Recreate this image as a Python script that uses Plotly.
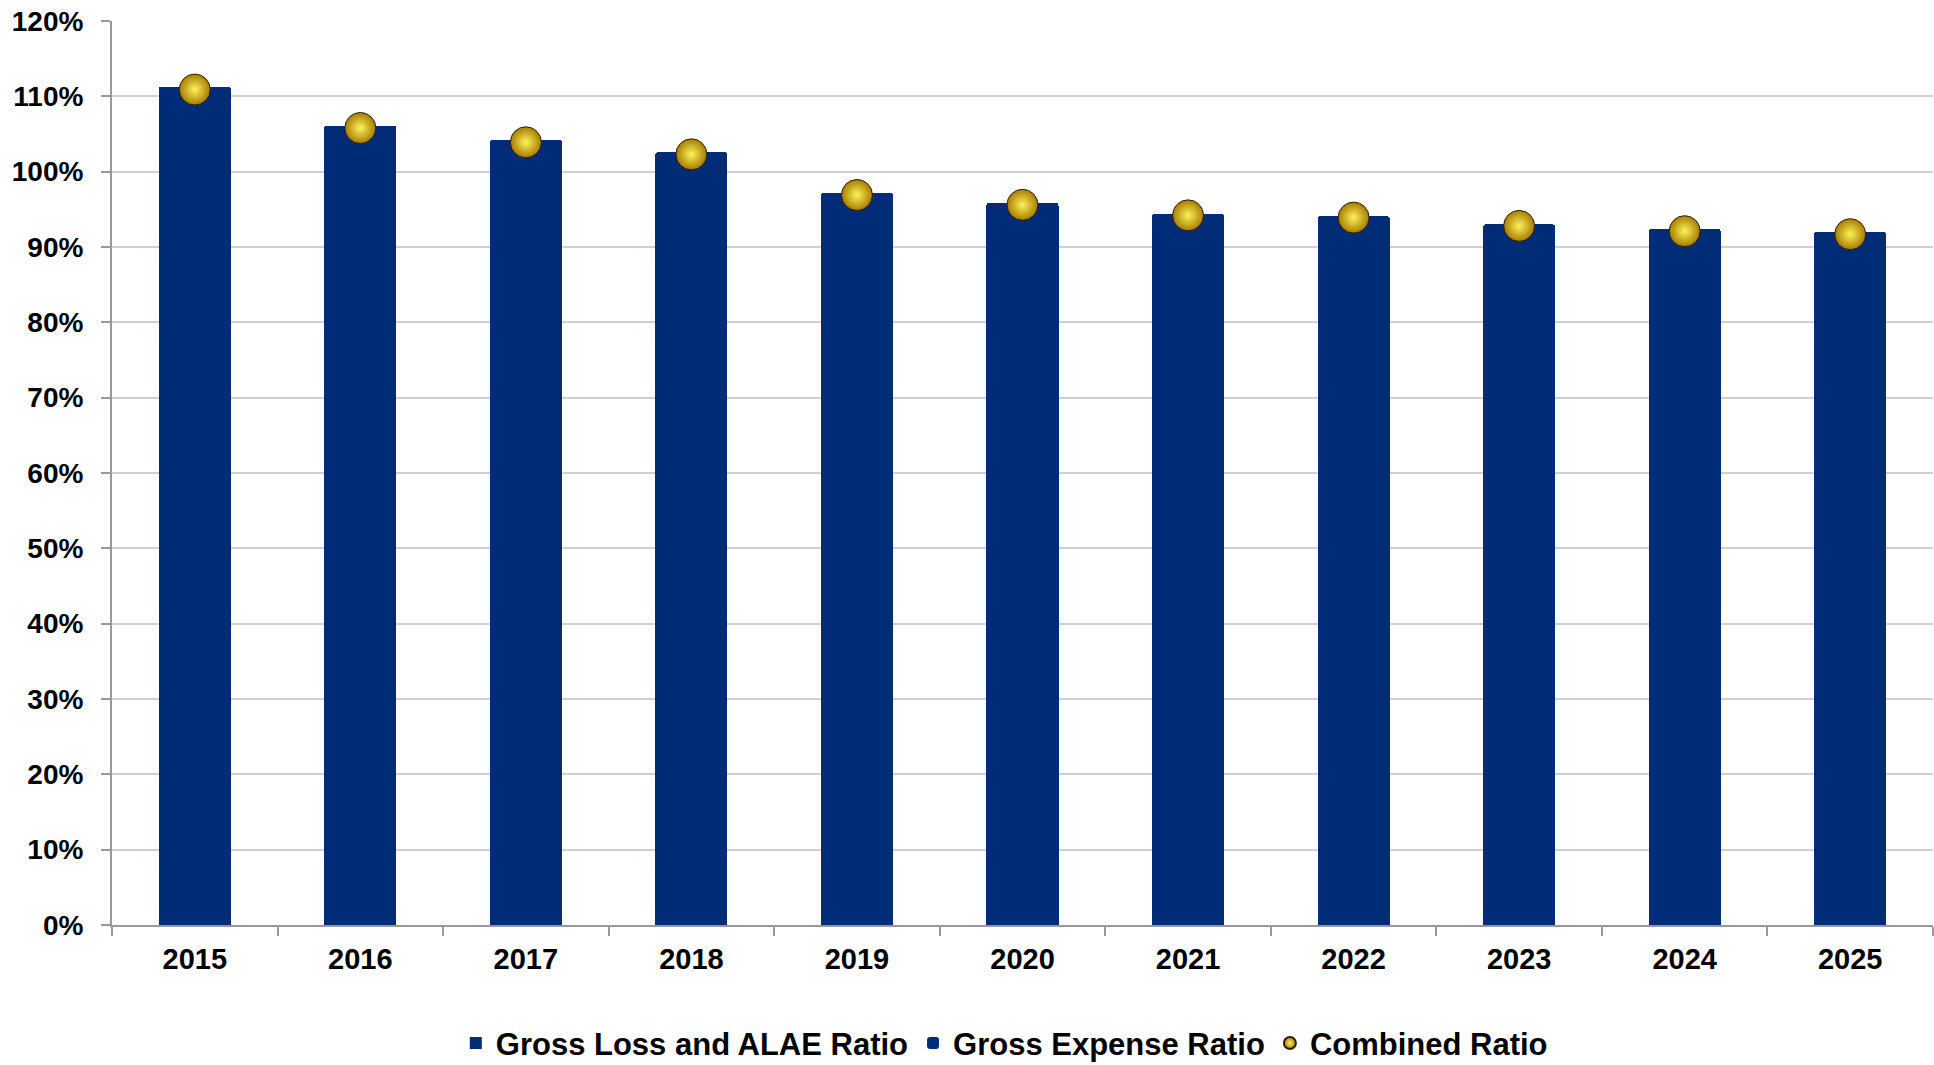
import plotly.graph_objects as go

years = ["2015", "2016", "2017", "2018", "2019", "2020", "2021", "2022", "2023", "2024", "2025"]
loss_alae_ratio = [80.5, 76.3, 74.4, 73.0, 70.5, 69.3, 68.1, 67.9, 67.1, 66.6, 66.6]
expense_ratio = [30.8, 29.8, 29.8, 29.6, 26.7, 26.6, 26.3, 26.2, 25.9, 25.8, 25.4]
combined_ratio = [110.9, 105.8, 103.9, 102.3, 96.9, 95.6, 94.2, 93.9, 92.8, 92.1, 91.7]
y_ticks = [0, 10, 20, 30, 40, 50, 60, 70, 80, 90, 100, 110, 120]
y_tick_labels = ["0%", "10%", "20%", "30%", "40%", "50%", "60%", "70%", "80%", "90%", "100%", "110%", "120%"]

NAVY = "#002C77"
FONT = "Arial, 'Liberation Sans', sans-serif"

fig = go.Figure()
fig.add_trace(go.Bar(
    x=years, y=loss_alae_ratio, name="Gross Loss and ALAE Ratio",
    marker=dict(color=NAVY, line=dict(width=0)),
))
fig.add_trace(go.Bar(
    x=years, y=expense_ratio, name="Gross Expense Ratio",
    marker=dict(color=NAVY, line=dict(width=0), cornerradius=3),
))
fig.add_trace(go.Scatter(
    x=years, y=combined_ratio, name="Combined Ratio", mode="markers",
    marker=dict(size=31, color="#A67C00",
                gradient=dict(type="radial", color="#FFF25A"),
                line=dict(color="#2a2000", width=1)),
))

fig.update_layout(
    barmode="stack",
    bargap=0.565,
    width=1934, height=1065,
    margin=dict(l=112, r=1, t=21, b=140, autoexpand=False),
    paper_bgcolor="white", plot_bgcolor="white",
    font=dict(family=FONT, size=27, color="black", weight="bold"),
    showlegend=True,
    legend=dict(orientation="h", x=0.49, xanchor="center", y=-0.131, yanchor="middle",
                font=dict(size=31, family=FONT, weight="bold"),
                itemsizing="constant", traceorder="normal", itemwidth=30),
    xaxis=dict(
        type="category", range=[-0.5, 10.5],
        showline=True, linecolor="#999999", linewidth=2,
        ticks="outside", tickson="boundaries", ticklen=9, tickcolor="#999999", tickwidth=2,
        showgrid=False, ticklabelstandoff=7,
        tickfont=dict(size=29, family=FONT, weight="bold"),
    ),
    yaxis=dict(
        range=[0, 120], tickvals=y_ticks, ticktext=y_tick_labels,
        showline=True, linecolor="#999999", linewidth=2,
        ticks="outside", ticklen=9, tickcolor="#999999", tickwidth=2,
        showgrid=True, gridcolor="#D0D0D0", gridwidth=2,
        zeroline=False, ticklabelstandoff=12,
        tickfont=dict(size=28, family=FONT, weight="bold"),
    ),
)

fig.write_html("out.html")
